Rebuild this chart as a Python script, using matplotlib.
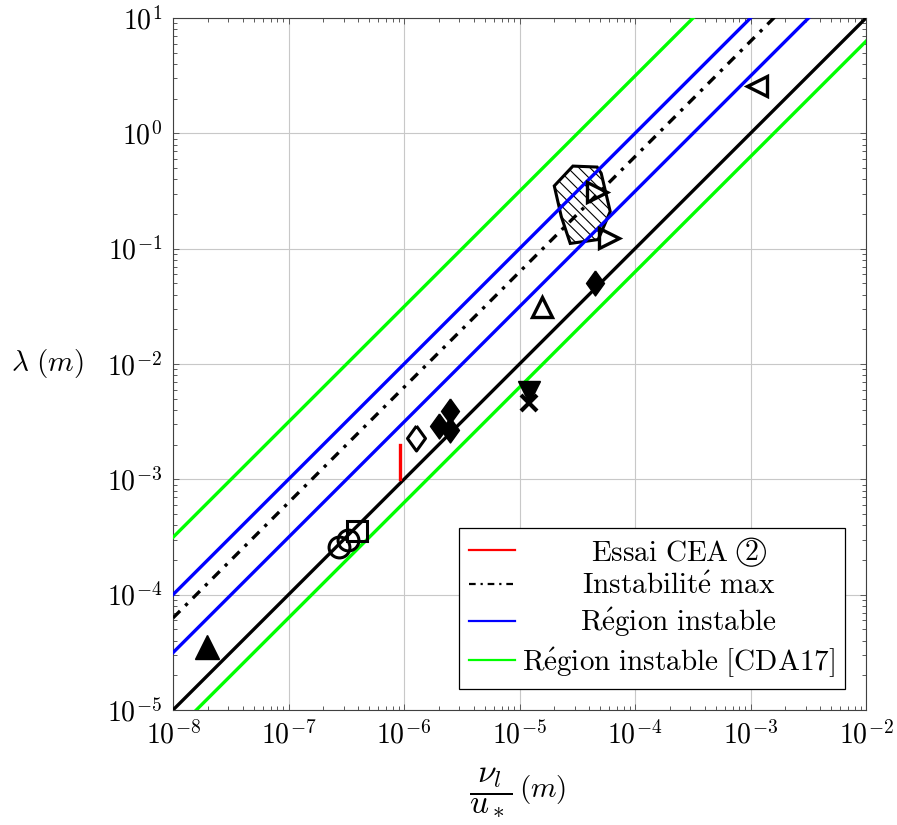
import numpy as np
import matplotlib
matplotlib.use("Agg")
import matplotlib.pyplot as plt
from matplotlib.lines import Line2D
from matplotlib.patches import Circle
from matplotlib.ticker import FuncFormatter, FixedLocator, LogLocator, NullFormatter

plt.rcParams['mathtext.fontset'] = 'cm'
plt.rcParams['hatch.linewidth'] = 0.8

# ---------------- data ----------------
x_range = [1e-8, 1e-2]
# lambda = coeff * (nu_l / u_*)
coef_black = 1e3
coef_blue_low = np.pi * 1e3
coef_max = 2 * np.pi * 1e3
coef_blue_high = 1e4
coef_green_low = 2 * np.pi * 1e2
coef_green_high = np.pi * 1e4

red_x = [9.2e-7, 9.2e-7]
red_y = [1.0e-3, 2.0e-3]

poly_x = [2.9e-5, 4.7e-5, 5.1e-5, 6.1e-5, 4.8e-5, 2.75e-5, 2.3e-5, 2.0e-5]
poly_y = [0.52, 0.51, 0.45, 0.21, 0.12, 0.111, 0.19, 0.35]

circ_x = [2.75e-7, 3.3e-7]
circ_y = [2.6e-4, 2.97e-4]
sq_x = [3.95e-7]
sq_y = [3.6e-4]
tri_up_filled_x = [1.97e-8]
tri_up_filled_y = [3.5e-5]
diam_open_x = [1.26e-6]
diam_open_y = [2.3e-3]
diam_filled_x = [2.0e-6, 2.5e-6, 2.5e-6, 4.5e-5]
diam_filled_y = [2.9e-3, 3.95e-3, 2.7e-3, 0.050]
tri_down_x = [1.22e-5]
tri_down_y = [5.7e-3]
cross_x = [1.22e-5]
cross_y = [4.6e-3]
tri_up_open_x = [1.57e-5]
tri_up_open_y = [0.0313]
tri_right_x = [4.7e-5, 5.9e-5]
tri_right_y = [0.31, 0.123]
tri_left_x = [1.13e-3]
tri_left_y = [2.57]

x_exps = [-8, -7, -6, -5, -4, -3, -2]
y_exps = [-5, -4, -3, -2, -1, 0, 1]

labels = [r"$\mathrm{Essai\ CEA}$",
          r"$\mathrm{Instabilit\acute{e}\ max}$",
          r"$\mathrm{R\acute{e}gion\ instable}$",
          r"$\mathrm{R\acute{e}gion\ instable\ [CDA17]}$"]
circled_label = "2"
ylabel_text = r'$\lambda\ (m)$'
xlabel_frac = r'$\dfrac{\nu_l}{u_*}$'
xlabel_unit = r'$(m)$'

# ---------------- figure ----------------
W, H, DPI = 897, 825, 100
fig = plt.figure(figsize=(W / DPI, H / DPI), dpi=DPI)
ax = fig.add_axes([173 / W, 1 - 710 / H, (866 - 173) / W, (710 - 18) / H])
ax.set_xscale('log')
ax.set_yscale('log')
ax.set_xlim(1e-8, 1e-2)
ax.set_ylim(1e-5, 1e1)

xr = np.array(x_range)
lw = 2.4
dashdot = (0, (3.0, 2.2, 1.0, 2.2))
ax.fill(poly_x, poly_y, facecolor='white', edgecolor='black', hatch='\\' * 3,
        linewidth=2.2, zorder=2)
ax.plot(xr, coef_green_low * xr, color='#00ff00', lw=lw, zorder=3)
ax.plot(xr, coef_green_high * xr, color='#00ff00', lw=lw, zorder=3)
ax.plot(xr, coef_blue_low * xr, color='#0000ff', lw=lw, zorder=3)
ax.plot(xr, coef_blue_high * xr, color='#0000ff', lw=lw, zorder=3)
ax.plot(xr, coef_max * xr, color='black', lw=lw, linestyle=dashdot, zorder=3)
ax.plot(xr, coef_black * xr, color='black', lw=lw, zorder=3)
ax.plot(red_x, red_y, color='#ff0000', lw=2.4, zorder=3)

diamond = [(0, 1), (0.72, 0), (0, -1), (-0.72, 0), (0, 1)]
mk = dict(linestyle='none', zorder=4, markeredgecolor='black')
ax.plot(circ_x, circ_y, marker='o', ms=15, mfc='none', mew=2.2, **mk)
ax.plot(sq_x, sq_y, marker='s', ms=15, mfc='none', mew=2.2, **mk)
ax.plot(tri_up_filled_x, tri_up_filled_y, marker='^', ms=17, mfc='black', mew=1, **mk)
ax.plot(diam_open_x, diam_open_y, marker=diamond, ms=18, mfc='none', mew=2.2, **mk)
ax.plot(diam_filled_x, diam_filled_y, marker=diamond, ms=18, mfc='black', mew=1, **mk)
ax.plot(tri_down_x, tri_down_y, marker='v', ms=16, mfc='black', mew=1, **mk)
ax.plot(cross_x, cross_y, marker='x', ms=11, mew=3, **mk)
ax.plot(tri_up_open_x, tri_up_open_y, marker='^', ms=15, mfc='none', mew=2.4, **mk)
ax.plot(tri_right_x, tri_right_y, marker='>', ms=14, mfc='none', mew=2.4, **mk)
ax.plot(tri_left_x, tri_left_y, marker='<', ms=14, mfc='none', mew=2.4, **mk)

# axes styling
ax.xaxis.set_major_locator(FixedLocator([10.0 ** e for e in x_exps]))
ax.yaxis.set_major_locator(FixedLocator([10.0 ** e for e in y_exps]))
ax.xaxis.set_minor_locator(LogLocator(base=10, subs=np.arange(2, 10), numticks=20))
ax.yaxis.set_minor_locator(LogLocator(base=10, subs=np.arange(2, 10), numticks=20))
ax.xaxis.set_minor_formatter(NullFormatter())
ax.yaxis.set_minor_formatter(NullFormatter())
fmt = FuncFormatter(lambda v, p: r'$10^{%d}$' % int(round(np.log10(v))))
ax.xaxis.set_major_formatter(fmt)
ax.yaxis.set_major_formatter(fmt)
ax.tick_params(which='both', direction='in', top=True, right=True, color='0.35', width=0.7)
ax.tick_params(which='major', length=4.5, labelsize=20, pad=8)
ax.tick_params(which='minor', length=2.6)
ax.grid(True, which='major', color='#c8c8c8', linewidth=0.8, zorder=0)
ax.set_axisbelow(True)
for s in ax.spines.values():
    s.set_color('0.25')
    s.set_linewidth(0.8)

ax.set_ylabel(ylabel_text, fontsize=21, rotation=0, ha='right', va='center')
ax.yaxis.set_label_coords(-0.128, 0.5)
# x label: fraction + unit
ax.text((491 - 173) / 693, (710 - 792) / 692, xlabel_frac, fontsize=24,
        ha='center', va='center', transform=ax.transAxes)
ax.text((543 - 173) / 693, (710 - 790) / 692, xlabel_unit, fontsize=21,
        ha='center', va='center', transform=ax.transAxes)

handles = [Line2D([], [], color='#ff0000', lw=1.6),
           Line2D([], [], color='black', lw=1.6, linestyle=dashdot),
           Line2D([], [], color='#0000ff', lw=1.6),
           Line2D([], [], color='#00ff00', lw=1.6)]
leg = ax.legend(handles, labels, loc='lower right',
                bbox_to_anchor=((845 - 173) / 693, (710 - 689) / 692),
                borderaxespad=0, fontsize=21, frameon=True, fancybox=False,
                edgecolor='black', framealpha=1, handlelength=1.55,
                handletextpad=0.25, labelspacing=0.2, borderpad=0.35)
leg.get_frame().set_linewidth(0.9)
leg.set_zorder(10)

fig.canvas.draw()
r = fig.canvas.get_renderer()
texts = leg.get_texts()
bbs = [t.get_window_extent(r) for t in texts]
gap, diam = 8, 28
widths = [b.width for b in bbs]
widths[0] = widths[0] + gap + diam
Wmax = max(widths)
for t, w in zip(texts, widths):
    t.set_position(((Wmax - w) / 2, 0))
fig.canvas.draw()
b0 = texts[0].get_window_extent(r)
cx = b0.x1 + gap + diam / 2
cy = (b0.y0 + b0.y1) / 2
circ = Circle((cx / DPI, cy / DPI), diam / 2 / DPI, transform=fig.dpi_scale_trans,
              fill=False, edgecolor='black', linewidth=0.9, zorder=20)
fig.patches.append(circ)
fig.text(cx / W, cy / H, r'$\mathrm{%s}$' % circled_label, fontsize=20,
         ha='center', va='center', zorder=21)

fig.savefig('out.png', dpi=DPI)
